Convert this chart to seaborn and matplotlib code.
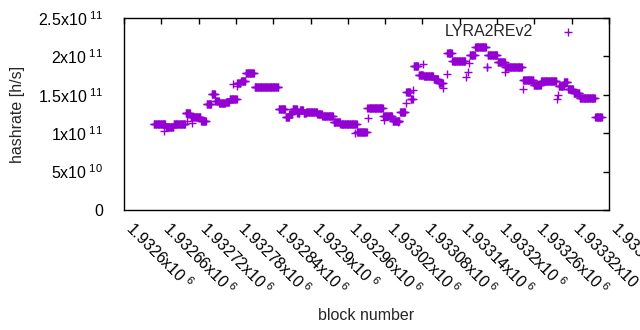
import seaborn as sns
import matplotlib.pyplot as plt
import matplotlib.ticker as mticker
import numpy as np
import pandas as pd

sns.set_style("white")
plt.rcParams["font.family"] = ["Liberation Sans", "DejaVu Sans"]
plt.rcParams["mathtext.fontset"] = "custom"
plt.rcParams["mathtext.rm"] = "Liberation Sans"
plt.rcParams["mathtext.it"] = "Liberation Sans:italic"

# hashrate per block, read off the chart as runs of equal value
# (first block, last block, hashrate in 1e9 h/s)
run_start = [1932648, 1932667, 1932664, 1932680, 1932699, 1932701, 1932709, 1932707,
             1932724, 1932733, 1932741, 1932747, 1932753, 1932764, 1932770, 1932776,
             1932782, 1932782, 1932788, 1932796, 1932810, 1932849, 1932860, 1932866,
             1932871, 1932879, 1932883, 1932889, 1932893, 1932911, 1932919, 1932937,
             1932948, 1932971, 1932975, 1932990, 1932992, 1932993, 1933017, 1933018,
             1933032, 1933041, 1933044, 1933053, 1933054, 1933061, 1933065, 1933066,
             1933074, 1933081, 1933082, 1933098, 1933106, 1933113, 1933119, 1933120,
             1933128, 1933150, 1933153, 1933155, 1933156, 1933165, 1933183, 1933185,
             1933201, 1933212, 1933213, 1933241, 1933242, 1933259, 1933271, 1933296,
             1933298, 1933299, 1933308, 1933314, 1933323, 1933333, 1933358]
run_end = [1932666, 1932679, 1932664, 1932698, 1932706, 1932701, 1932709, 1932723,
           1932732, 1932740, 1932746, 1932752, 1932763, 1932769, 1932781, 1932776,
           1932787, 1932782, 1932795, 1932809, 1932848, 1932859, 1932865, 1932870,
           1932878, 1932882, 1932888, 1932892, 1932910, 1932918, 1932936, 1932947,
           1932974, 1932971, 1932990, 1932990, 1932992, 1933016, 1933031, 1933018,
           1933043, 1933041, 1933052, 1933053, 1933060, 1933064, 1933065, 1933073,
           1933081, 1933081, 1933097, 1933105, 1933113, 1933113, 1933119, 1933127,
           1933148, 1933150, 1933153, 1933155, 1933164, 1933182, 1933184, 1933200,
           1933212, 1933212, 1933240, 1933241, 1933258, 1933270, 1933295, 1933296,
           1933298, 1933307, 1933313, 1933322, 1933332, 1933357, 1933368]
run_rate = [111.6, 108.5, 103.2, 111.6, 126.3, 116.3, 113.7, 121.5,
            115.9, 138.0, 150.4, 142.3, 138.9, 141.0, 144.1, 164.0,
            165.4, 161.4, 168.3, 179.0, 160.1, 131.1, 121.1, 125.4,
            131.1, 126.7, 130.6, 126.3, 128.0, 125.4, 123.0, 115.0,
            112.0, 99.9, 101.6, 132.4, 119.4, 133.2, 122.8, 117.2,
            116.3, 115.0, 127.6, 138.9, 153.6, 144.5, 156.2, 187.5,
            176.4, 190.1, 174.5, 170.2, 166.0, 158.8, 176.7, 204.0,
            193.6, 173.2, 180.1, 191.0, 201.8, 211.8, 186.2, 201.8,
            192.7, 179.7, 186.2, 157.5, 169.3, 162.8, 167.6, 144.1,
            149.7, 161.4, 166.7, 157.5, 152.3, 145.4, 120.7]

x_ticks = list(range(1932600, 1933381, 60))
y_ticks = [0, 5e10, 1e11, 1.5e11, 2e11, 2.5e11]

blocks = np.concatenate([np.arange(s, e + 1) for s, e in zip(run_start, run_end)])
rates = np.concatenate([np.full(e - s + 1, r * 1e9) for s, e, r in zip(run_start, run_end, run_rate)])
df = pd.DataFrame({"block": blocks, "hashrate": rates})

fig = plt.figure(figsize=(6.4, 3.3), dpi=100)
ax = fig.add_axes([124 / 640, 120 / 330, 485 / 640, 192 / 330])

sns.scatterplot(data=df, x="block", y="hashrate", marker="+", s=32, linewidth=1.0,
                color="#9400D3", label="LYRA2REv2", ax=ax)

ax.set_xlim(1932600, 1933380)
ax.set_ylim(0, 2.5e11)


def sci(v, pos=None):
    if v == 0:
        return "0"
    e = int(np.floor(np.log10(abs(v)) + 1e-9))
    m = v / 10 ** e
    return f"{m:g}x10$^{{\\ {e}}}$"


fs = 11.5
ax.set_xticks(x_ticks)
ax.set_yticks(y_ticks)
ax.xaxis.set_major_formatter(mticker.FuncFormatter(sci))
ax.yaxis.set_major_formatter(mticker.FuncFormatter(sci))
ax.tick_params(direction="in", length=4, width=1, top=True, right=True,
               labelsize=fs, colors="black")
ax.tick_params(axis="y", pad=15)
ax.tick_params(axis="x", pad=14)
for lab in ax.get_xticklabels():
    lab.set_rotation(-45)
    lab.set_ha("left")
    lab.set_va("baseline")
    lab.set_rotation_mode("anchor")
for sp in ax.spines.values():
    sp.set_visible(True)
    sp.set_color("black")
    sp.set_linewidth(1)

ax.set_xlabel("block number", fontsize=fs, labelpad=0)
ax.set_ylabel("hashrate [h/s]", fontsize=fs)
ax.xaxis.set_label_coords(0.5, -0.51)
ax.yaxis.set_label_coords(-0.205, 0.5)

ax.legend(loc="upper right", bbox_to_anchor=(0.971, 1.026), frameon=False,
          markerfirst=False, fontsize=fs, handletextpad=1.19, handlelength=2.0,
          borderaxespad=0.3)

fig.savefig("out.png", dpi=100)
plt.close(fig)
